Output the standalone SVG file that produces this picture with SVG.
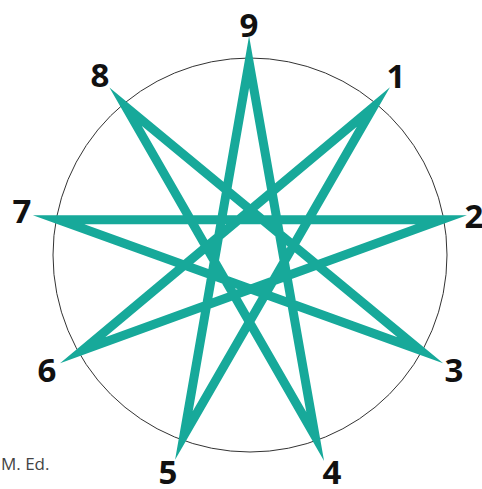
<svg xmlns="http://www.w3.org/2000/svg" width="482" height="489" viewBox="0 0 482 489">
  <style>
    .num { font-family: "Open Sans", "Liberation Sans", sans-serif; font-weight: 700; font-size: 33px; fill: #111; text-anchor: middle; }
    .note { font-family: "Open Sans", "Liberation Sans", sans-serif; font-size: 17px; fill: #444; }
    .ring { fill: none; stroke: #333; stroke-width: 1; }
    .star { fill: none; stroke: #17a99a; stroke-width: 9; stroke-linejoin: miter; stroke-miterlimit: 12; }
  </style>
  <rect width="482" height="489" fill="#fff"/>
  <g id="circle">
    <circle class="ring" cx="250" cy="255" r="197"/>
  </g>
  <g id="connectors">
    <path class="star" d="M249.1,62 L315.2,436.5 L125.7,106.9 L420.3,350.3 L58.6,219.7 L441.4,219.7 L82.6,350.2 L373.4,107 L183.9,435.6 Z"/>
  </g>
  <g id="n9"><text class="num" x="249" y="37">9</text></g>
  <g id="n1"><text class="num" x="396" y="88">1</text></g>
  <g id="n2"><text class="num" x="474" y="228">2</text></g>
  <g id="n3"><text class="num" x="454" y="382">3</text></g>
  <g id="n4"><text class="num" x="332" y="484">4</text></g>
  <g id="n5"><text class="num" x="168" y="484">5</text></g>
  <g id="n6"><text class="num" x="47" y="382">6</text></g>
  <g id="n7"><text class="num" x="22" y="223">7</text></g>
  <g id="n8"><text class="num" x="100" y="87">8</text></g>
  <g id="caption"><text class="note" x="1" y="470">M. Ed.</text></g>
</svg>
